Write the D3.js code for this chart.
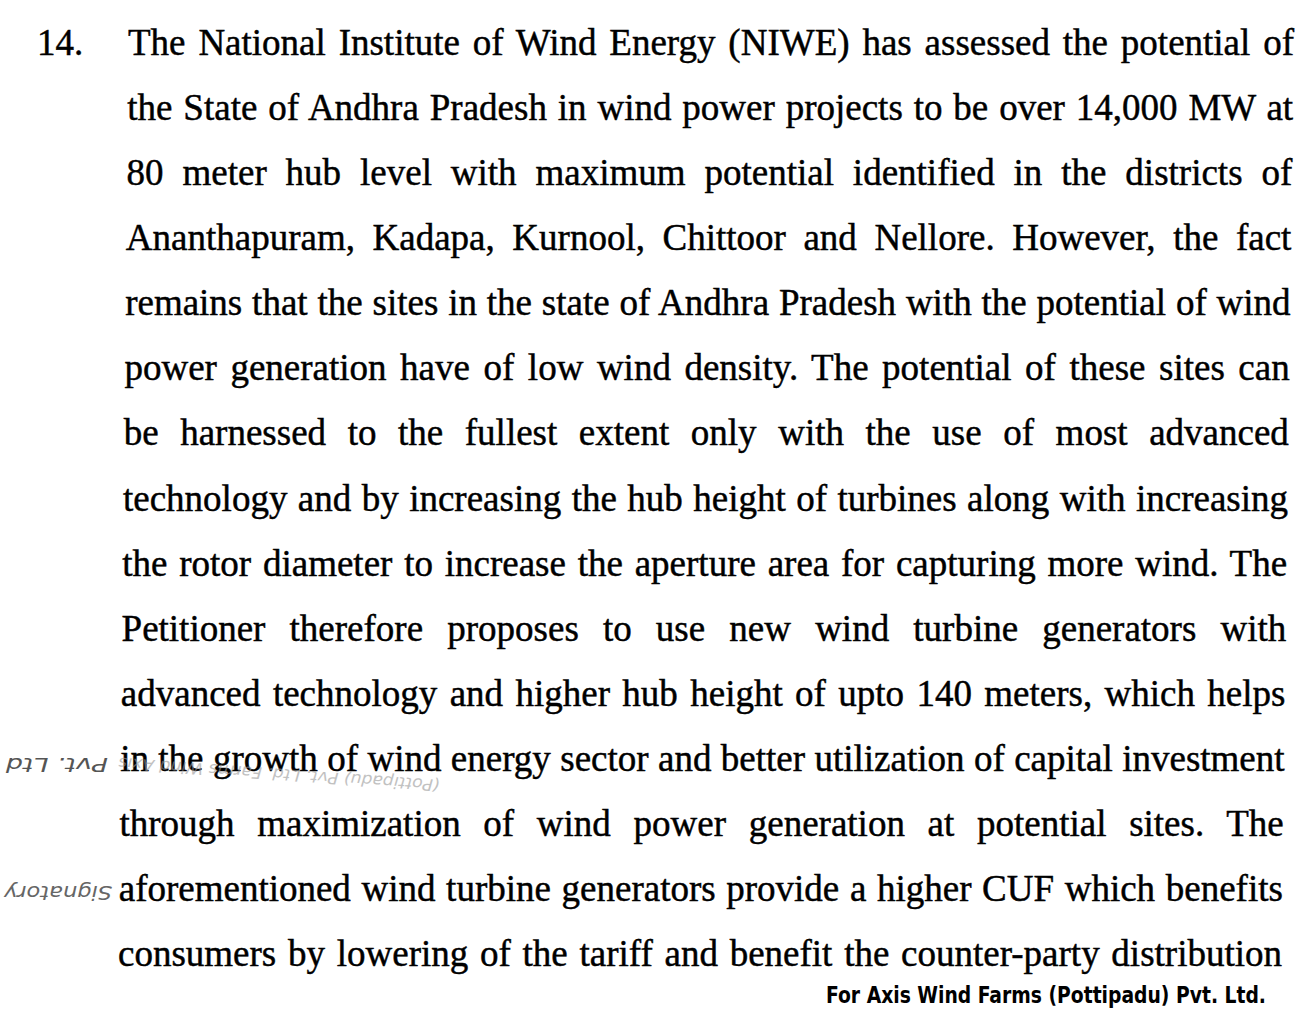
<!DOCTYPE html>
<html>
<head>
<meta charset="utf-8">
<title>Petition page 14</title>
<script src="https://cdn.jsdelivr.net/npm/d3@7"></script>
<style>
  html, body { margin:0; padding:0; background:#fff; }
  svg { display:block; }
  .body-text { font-family:"Liberation Serif","Times New Roman",serif; font-size:37px; fill:#000; stroke:#000; stroke-width:0.45px; }
  .footer { font-family:"Liberation Sans Narrow","DejaVu Sans Condensed","Liberation Sans",sans-serif; font-weight:bold; font-size:23px; fill:#000; }
  .stamp { font-family:"Liberation Sans Narrow","DejaVu Sans Condensed",sans-serif; }
</style>
</head>
<body>
<svg></svg>
<script>
var width = 1312,
    height = 1014;

// page content
var paraNumber = "14.";
var lines = [
  "The National Institute of Wind Energy (NIWE) has assessed the potential of",
  "the State of Andhra Pradesh in wind power projects to be over 14,000 MW at",
  "80 meter hub level with maximum potential identified in the districts of",
  "Ananthapuram, Kadapa, Kurnool, Chittoor and Nellore. However, the fact",
  "remains that the sites in the state of Andhra Pradesh with the potential of wind",
  "power generation have of low wind density. The potential of these sites can",
  "be harnessed to the fullest extent only with the use of most advanced",
  "technology and by increasing the hub height of turbines along with increasing",
  "the rotor diameter to increase the aperture area for capturing more wind. The",
  "Petitioner therefore proposes to use new wind turbine generators with",
  "advanced technology and higher hub height of upto 140 meters, which helps",
  "in the growth of wind energy sector and better utilization of capital investment",
  "through maximization of wind power generation at potential sites. The",
  "aforementioned wind turbine generators provide a higher CUF which benefits",
  "consumers by lowering of the tariff and benefit the counter-party distribution"
];
var footerText = "For Axis Wind Farms (Pottipadu) Pvt. Ltd.";
var stampTexts = ["Pvt. Ltd", "Signatory", "(Pottipadu) Pvt. Ltd. Farms Wind Axis"];

var svg = d3.select("svg")
  .attr("width", width)
  .attr("height", height);

// line positions (the scan is a little skewed, margins drift to the left)
var y = d3.scaleLinear().domain([0, lines.length - 1]).range([55, 966]);
var left = d3.scaleLinear().domain([0, lines.length - 1]).range([128, 118]);
var right = d3.scaleLinear().domain([0, lines.length - 1]).range([1294, 1282]);

svg.append("text")
  .attr("class", "body-text")
  .attr("x", 37)
  .attr("y", y(0))
  .text(paraNumber);

var rows = svg.selectAll("text.line")
  .data(lines)
  .enter()
  .append("text")
  .attr("class", "body-text line")
  .attr("x", function(d, i){ return left(i); })
  .attr("y", function(d, i){ return y(i); })
  .text(function(d){ return d; });

// justify: spread the spare room over the word gaps
rows.each(function(d, i){
  var t = d3.select(this),
      natural = this.getComputedTextLength(),
      gaps = d.split(" ").length - 1,
      avail = right(i) - left(i);
  var extra = (avail - natural) / gaps;
  if (extra >= -4) {
    t.style("word-spacing", extra + "px");
  } else {
    t.attr("textLength", avail).attr("lengthAdjust", "spacingAndGlyphs");
  }
});

// company line at the foot
svg.append("text")
  .attr("class", "footer")
  .attr("x", 826)
  .attr("y", 1003)
  .attr("textLength", 440)
  .attr("lengthAdjust", "spacingAndGlyphs")
  .text(footerText);

// faint stamp impressions on the left edge, printed upside down
svg.append("text")
  .attr("class", "stamp")
  .attr("transform", "translate(108,758) rotate(180)")
  .attr("font-size", 20)
  .attr("font-style", "italic")
  .attr("fill", "#555")
  .attr("textLength", 102)
  .attr("lengthAdjust", "spacingAndGlyphs")
  .text(stampTexts[0]);

svg.append("text")
  .attr("class", "stamp")
  .attr("transform", "translate(112,886) rotate(180)")
  .attr("font-size", 19)
  .attr("font-style", "italic")
  .attr("fill", "#666")
  .attr("textLength", 108)
  .attr("lengthAdjust", "spacingAndGlyphs")
  .text(stampTexts[1]);

svg.append("text")
  .attr("class", "stamp")
  .attr("transform", "translate(440,780) rotate(184)")
  .attr("font-size", 16)
  .attr("font-style", "italic")
  .attr("fill", "#999")
  .attr("opacity", 0.6)
  .attr("textLength", 322)
  .attr("lengthAdjust", "spacingAndGlyphs")
  .text(stampTexts[2]);
</script>
</body>
</html>
